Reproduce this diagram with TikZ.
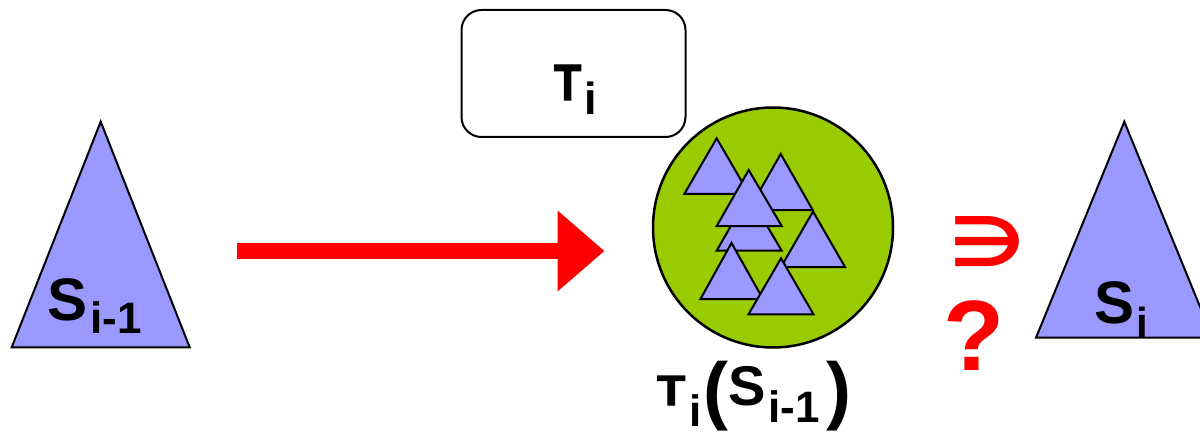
\documentclass[tikz,border=0pt]{standalone}
\usepackage{fontspec}
\setmainfont{Liberation Sans}
\newfontfamily\dejavu{DejaVu Sans}
\newfontfamily\taufont[FakeBold=2.5]{Liberation Sans Bold}
\usetikzlibrary{arrows.meta}
\definecolor{tri}{HTML}{9999FF}
\definecolor{grn}{HTML}{99CC00}
\definecolor{rd}{HTML}{FF0000}
\newcommand{\fsz}[1]{\fontsize{#1}{#1}\selectfont}
\newcommand{\tauglyph}[2]{\resizebox{#1}{#2}{\taufont\fsz{50}Τ}}
\begin{document}
\begin{tikzpicture}[x=1pt,y=-1pt,
  bigtri/.style={fill=tri, draw=black, line width=2pt, line join=miter},
  smalltri/.style={fill=tri, draw=black, line width=2pt, line join=miter},
  lbl/.style={anchor=base west, inner sep=0pt, font=\bfseries},
  opbox/.style={draw=black, line width=2pt, rounded corners=20pt, fill=white,
                minimum width=224pt, minimum height=127pt, inner sep=0pt},
  result/.style={circle, draw=black, line width=2.5pt, fill=grn,
                minimum size=240pt, inner sep=0pt},
  redarrow/.style={draw=rd, line width=16pt, -{Triangle[length=47pt,width=78pt]}}
]
\useasboundingbox (0,0) rectangle (1200,433);
\clip (0,0) rectangle (1200,433);

% left big triangle S_{i-1}
\draw[bigtri] (100.7,121.7) -- (11.7,347.3) -- (189.7,347.3) -- cycle;
\node[lbl] (lS) at (47.5,320) {\fsz{60}S\kern3pt\raisebox{-13pt}{\fsz{44}i-1}};

% arrow
\coordinate (arrowstart) at (237,251);
\coordinate (arrowend) at (604.5,251);
\draw[redarrow] (arrowstart) -- (arrowend);

% operator box
\node[opbox] (tbox) at (573.5,73.5) {};
\node[lbl] (tlab) at (554,100) {\tauglyph{27pt}{35pt}\kern3pt\raisebox{-15pt}{\fsz{45}i}};

% result circle
\node[result] (res) at (773,227.5) {};
\draw[smalltri] (716.7,138.3) -- (684.3,194) -- (749,194) -- cycle;
\draw[smalltri] (780.7,154) -- (748.7,210) -- (812.7,210) -- cycle;
\draw[smalltri] (748.7,194.7) -- (716.7,250.7) -- (781.7,250.7) -- cycle;
\draw[smalltri] (748.7,170) -- (716.7,226) -- (781.7,226) -- cycle;
\draw[smalltri] (813,211.5) -- (781,267) -- (845,267) -- cycle;
\draw[smalltri] (731.5,243) -- (700.5,299) -- (763,299) -- cycle;
\draw[smalltri] (781,258.3) -- (748.5,314.3) -- (813.5,314.3) -- cycle;

% bottom label
\node[lbl] (rlab) at (657,405) {\tauglyph{28pt}{29pt}\kern4pt\raisebox{-21pt}{\fsz{44}i}\kern2pt\raisebox{-10pt}{\fsz{75}(}\fsz{56}S\kern3pt\raisebox{-17pt}{\fsz{44}i-1}\kern6pt\raisebox{-10pt}{\fsz{75})}};

% relation symbols
\node[inner sep=0pt, text=rd] (elem) at (987.5,242) {\resizebox{76pt}{50pt}{\dejavu\bfseries ∋}};
\node[lbl, text=rd] (q) at (943,370) {\fsz{100}?};

% right big triangle S_i
\draw[bigtri] (1124.3,121.7) -- (1036,337.7) -- (1212.7,337.7) -- cycle;
\node[lbl] (rS) at (1094.5,323) {\fsz{60}S\kern2pt\raisebox{-14pt}{\fsz{42}i}};
\end{tikzpicture}
\end{document}
